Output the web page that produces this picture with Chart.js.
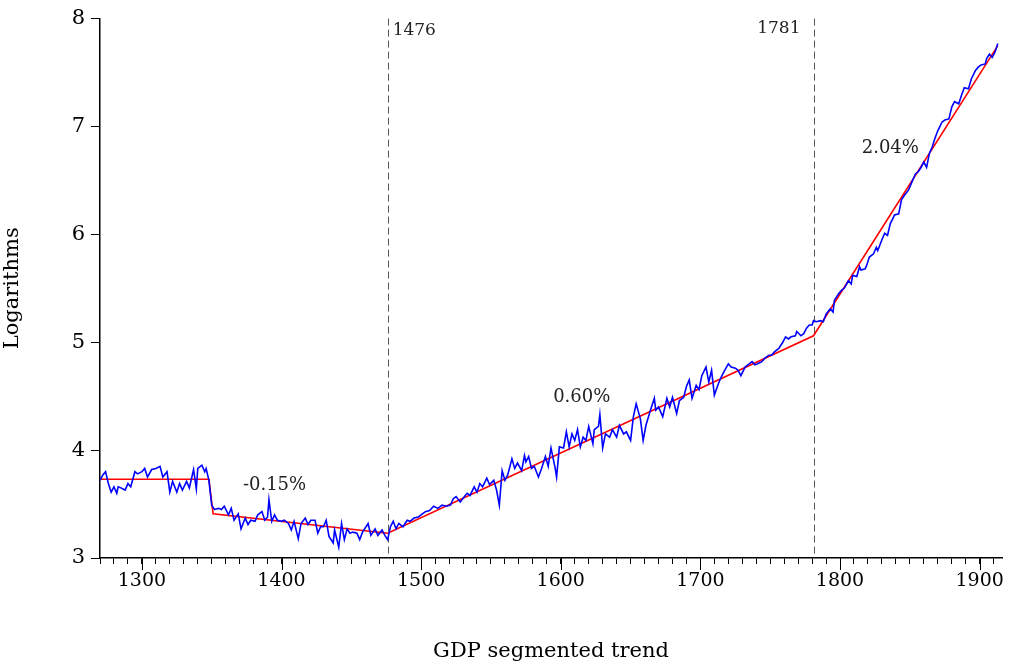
<!DOCTYPE html>
<html>
<head>
<meta charset="utf-8">
<script src="https://cdn.jsdelivr.net/npm/chart.js@4.4.1/dist/chart.umd.min.js"></script>
<style>
  body { margin: 0; background: #fff; }
</style>
</head>
<body>
<canvas id="gdpChart" width="1015" height="670"></canvas>
<script>
// years and log GDP
const years = [
  1270,1272,1274,1276,1278,1280,1282,1283,1285,1288,1290,1292,1295,1297,1300,1302,1304,1307,1310,1313,
  1315,1318,1320,1322,1325,1327,1329,1332,1334,1337,1339,1340,1343,1345,1346,1348,1350,1352,1355,1357,
  1359,1362,1364,1366,1369,1371,1374,1376,1378,1381,1383,1386,1388,1390,1391,1393,1395,1397,1400,1402,
  1405,1407,1409,1412,1414,1417,1419,1421,1424,1426,1428,1430,1432,1434,1437,1438,1441,1443,1445,1447,
  1449,1451,1454,1456,1458,1462,1464,1467,1469,1472,1474,1476,1478,1480,1482,1484,1487,1490,1492,1495,
  1498,1500,1503,1506,1509,1512,1515,1518,1521,1523,1525,1528,1531,1533,1535,1538,1540,1542,1544,1547,
  1549,1552,1554,1556,1558,1560,1562,1565,1567,1569,1572,1574,1575,1577,1579,1581,1584,1586,1589,1591,
  1593,1596,1597,1599,1602,1604,1606,1608,1610,1612,1614,1616,1618,1620,1623,1624,1627,1628,1630,1632,
  1635,1637,1640,1642,1645,1647,1650,1652,1654,1657,1659,1661,1664,1667,1668,1670,1673,1676,1678,1680,
  1683,1685,1688,1690,1692,1694,1697,1699,1701,1704,1706,1708,1710,1713,1715,1717,1720,1722,1725,1727,
  1729,1732,1734,1737,1739,1741,1744,1746,1749,1751,1753,1756,1759,1761,1763,1765,1768,1769,1772,1774,
  1776,1778,1780,1781,1783,1786,1788,1790,1793,1795,1796,1799,1801,1803,1806,1808,1809,1812,1814,1815,
  1818,1819,1821,1824,1826,1827,1830,1832,1834,1836,1838,1839,1842,1844,1846,1849,1851,1854,1856,1858,
  1860,1862,1864,1866,1868,1870,1873,1875,1878,1880,1882,1885,1887,1889,1892,1894,1897,1899,1901,1904,
  1905,1907,1909,1911,1913
];
const gdp = [
  3.72,3.77,3.80,3.69,3.61,3.66,3.60,3.66,3.65,3.63,3.69,3.66,3.80,3.78,3.80,3.83,3.75,3.82,3.83,3.85,
  3.75,3.80,3.61,3.71,3.61,3.69,3.63,3.71,3.65,3.82,3.64,3.83,3.86,3.80,3.83,3.72,3.49,3.45,3.46,3.45,
  3.48,3.40,3.46,3.35,3.41,3.27,3.37,3.31,3.35,3.34,3.40,3.43,3.35,3.38,3.54,3.34,3.40,3.35,3.34,3.35,
  3.32,3.26,3.34,3.18,3.32,3.37,3.31,3.35,3.35,3.23,3.29,3.29,3.35,3.20,3.14,3.26,3.10,3.32,3.17,3.27,
  3.23,3.24,3.23,3.17,3.24,3.32,3.21,3.27,3.21,3.26,3.21,3.17,3.29,3.34,3.27,3.32,3.29,3.35,3.34,3.37,
  3.38,3.40,3.43,3.44,3.48,3.46,3.49,3.48,3.49,3.55,3.57,3.52,3.57,3.60,3.58,3.66,3.61,3.69,3.66,3.74,
  3.68,3.72,3.63,3.49,3.81,3.72,3.77,3.92,3.83,3.88,3.81,3.95,3.89,3.94,3.83,3.85,3.75,3.82,3.94,3.85,
  4.02,3.83,3.75,4.03,4.02,4.17,4.03,4.15,4.09,4.19,4.03,4.12,4.09,4.22,4.06,4.19,4.22,4.33,4.02,4.15,
  4.12,4.19,4.12,4.23,4.15,4.17,4.09,4.31,4.43,4.29,4.09,4.23,4.36,4.48,4.37,4.40,4.31,4.48,4.40,4.49,
  4.34,4.46,4.49,4.59,4.65,4.48,4.60,4.56,4.69,4.77,4.63,4.74,4.51,4.62,4.68,4.73,4.80,4.77,4.76,4.74,
  4.69,4.77,4.79,4.82,4.79,4.80,4.82,4.85,4.88,4.88,4.91,4.94,5.00,5.05,5.03,5.05,5.06,5.10,5.06,5.08,
  5.13,5.16,5.16,5.20,5.19,5.20,5.19,5.26,5.31,5.28,5.39,5.45,5.48,5.50,5.57,5.54,5.62,5.61,5.70,5.67,
  5.68,5.71,5.79,5.82,5.88,5.85,5.95,6.01,5.99,6.10,6.15,6.18,6.19,6.32,6.36,6.41,6.47,6.56,6.58,6.62,
  6.67,6.62,6.75,6.81,6.89,6.96,7.04,7.06,7.07,7.18,7.23,7.21,7.29,7.36,7.35,7.44,7.52,7.55,7.57,7.58,
  7.63,7.67,7.64,7.69,7.77
];

// segmented trend (break points)
const trendYears = [1270, 1348, 1351, 1476, 1781, 1913];
const trendValues = [3.73, 3.73, 3.41, 3.23, 5.06, 7.75];

// structural breaks and growth rates
const breakYears = [1476, 1781];
const rateLabels = ['-0.15%', '0.60%', '2.04%'];

const xTicks = [1300, 1400, 1500, 1600, 1700, 1800, 1900];
const yTicks = [3, 4, 5, 6, 7, 8];

const serif = "'DejaVu Serif', serif";

// where the labels sit, in data units
const rateLabelPos = [[1395, 3.67], [1615, 4.49], [1836, 6.80]];

const extras = {
  id: 'extras',
  beforeDatasetsDraw(chart) {
    const { ctx, chartArea, scales: { x, y } } = chart;
    ctx.save();
    ctx.strokeStyle = '#555';
    ctx.lineWidth = 1;
    ctx.setLineDash([7, 4]);
    breakYears.forEach(yr => {
      const px = Math.round(x.getPixelForValue(yr)) + 0.5;
      ctx.beginPath();
      ctx.moveTo(px, y.getPixelForValue(8));
      ctx.lineTo(px, chartArea.bottom);
      ctx.stroke();
    });
    ctx.restore();
  },
  afterDraw(chart) {
    const { ctx, chartArea, scales: { x, y } } = chart;
    ctx.save();
    // longer ticks on the centuries
    ctx.strokeStyle = '#000';
    ctx.lineWidth = 1;
    xTicks.forEach(v => {
      const px = Math.round(x.getPixelForValue(v)) + 0.5;
      ctx.beginPath();
      ctx.moveTo(px, chartArea.bottom);
      ctx.lineTo(px, chartArea.bottom + 12);
      ctx.stroke();
    });
    ctx.fillStyle = '#222';
    ctx.font = "18px " + serif;
    ctx.textBaseline = 'middle';
    ctx.textAlign = 'center';
    rateLabels.forEach((t, i) => {
      ctx.fillText(t, x.getPixelForValue(rateLabelPos[i][0]), y.getPixelForValue(rateLabelPos[i][1]));
    });
    ctx.font = "17px " + serif;
    ctx.textAlign = 'left';
    ctx.fillText(String(breakYears[0]), x.getPixelForValue(breakYears[0]) + 5, y.getPixelForValue(7.89));
    ctx.textAlign = 'right';
    ctx.fillText(String(breakYears[1]), x.getPixelForValue(breakYears[1]) - 13, y.getPixelForValue(7.91));
    ctx.restore();
  }
};

new Chart(document.getElementById('gdpChart'), {
  type: 'line',
  data: {
    datasets: [
      {
        label: 'GDP',
        data: years.map((yr, i) => ({ x: yr, y: gdp[i] })),
        borderColor: '#0000ff',
        borderWidth: 1.6,
        pointRadius: 0,
        tension: 0
      },
      {
        label: 'Trend',
        data: trendYears.map((yr, i) => ({ x: yr, y: trendValues[i] })),
        borderColor: '#ff0000',
        borderWidth: 1.6,
        pointRadius: 0,
        tension: 0
      }
    ]
  },
  options: {
    responsive: false,
    animation: false,
    layout: { padding: { top: 18, right: 13, left: 0, bottom: 0 } },
    plugins: {
      legend: { display: false },
      tooltip: { enabled: false }
    },
    scales: {
      x: {
        type: 'linear',
        min: 1270,
        max: 1916,
        afterBuildTicks: s => {
          const t = [];
          for (let v = 1270; v <= 1910; v += 10) t.push({ value: v });
          s.ticks = t;
        },
        afterFit: s => { s.height = 112; },
        border: { color: '#000', width: 1.5 },
        grid: { drawOnChartArea: false, tickLength: 6, color: '#000', tickWidth: 1 },
        ticks: {
          autoSkip: false,
          maxRotation: 0,
          padding: 6,
          color: '#000',
          font: { family: serif, size: 19 },
          callback: v => (v % 100 === 0 ? String(v) : '')
        },
        title: {
          display: true,
          text: 'GDP segmented trend',
          color: '#000',
          font: { family: serif, size: 21 },
          padding: { top: 0, bottom: 6 }
        }
      },
      y: {
        min: 3,
        max: 8,
        afterBuildTicks: s => { s.ticks = yTicks.map(v => ({ value: v })); },
        afterFit: s => { s.width = 100; },
        border: { color: '#000', width: 1.5 },
        grid: { drawOnChartArea: false, tickLength: 9, color: '#000' },
        ticks: {
          padding: 6,
          color: '#000',
          font: { family: serif, size: 21 }
        },
        title: {
          display: true,
          text: 'Logarithms',
          color: '#000',
          font: { family: serif, size: 21 },
          padding: { top: 0, bottom: 6 }
        }
      }
    }
  },
  plugins: [extras]
});
</script>
</body>
</html>
